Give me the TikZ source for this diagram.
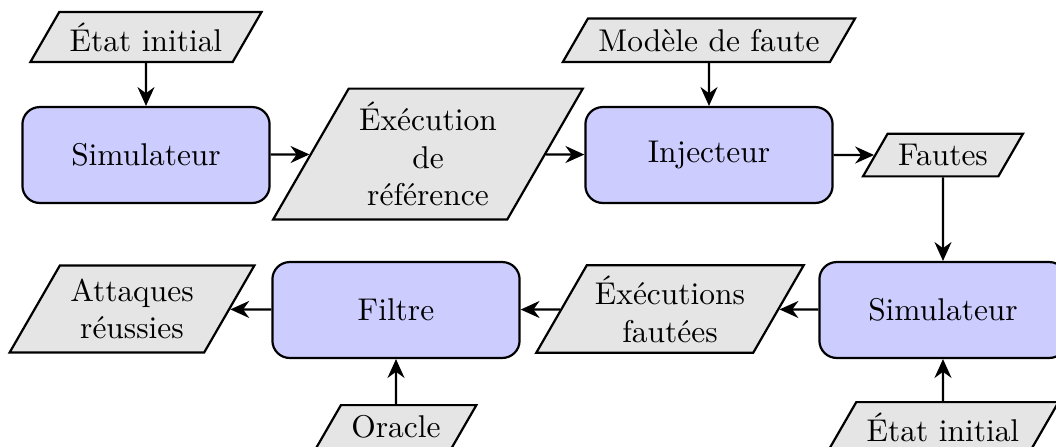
\documentclass[tikz,border=0pt]{standalone}
\usetikzlibrary{shapes.geometric,arrows.meta}
\tikzset{
  proc/.style={draw, line width=0.7pt, fill=blue!20, rounded corners=5.5pt,
    minimum width=78.6pt, minimum height=30.5pt},
  data/.style={draw, line width=0.7pt, fill=gray!20, trapezium,
    trapezium left angle=60, trapezium right angle=120, align=center},
  multi/.style={inner ysep=4.2pt},
  conn/.style={-{Stealth[length=6pt,width=5.4pt]}, line width=0.7pt},
}
\begin{document}
\begin{tikzpicture}[x=0.318pt,y=-0.318pt]
\useasboundingbox (0,0) rectangle (1056,446);
% top row
\node[proc] (sim1) at (146,155) {Simulateur};
\node[data, multi] (exec) at (428,154) {Éxécution\\de\\référence};
\node[proc] (inj) at (709,155) {Injecteur};
\node[data] (fautes) at (943,155) {Fautes};
\node[data, anchor=south] (etat1) at (146,63) {État initial};
\node[data, anchor=south] (modele) at (709,63) {Modèle de faute};
% bottom row
\node[proc] (sim2) at (943,310) {Simulateur};
\node[data, inner xsep=2.6pt] (execf) at (670,309) {Éxécutions\\fautées};
\node[proc] (filtre) at (396,310) {Filtre};
\node[data, multi] (att) at (132,309) {Attaques\\réussies};
\node[data, anchor=north] (oracle) at (396,404) {Oracle};
\node[data, anchor=north] (etat2) at (943,401) {État initial};
% connectors
\draw[conn] (etat1) -- (sim1);
\draw[conn] (sim1) -- (exec);
\draw[conn] (exec) -- (inj);
\draw[conn] (modele) -- (inj);
\draw[conn] (inj) -- (fautes);
\draw[conn] (fautes) -- (sim2);
\draw[conn] (etat2) -- (sim2);
\draw[conn] (sim2) -- (execf);
\draw[conn] (execf) -- (filtre);
\draw[conn] (oracle) -- (filtre);
\draw[conn] (filtre) -- (att);
\end{tikzpicture}
\end{document}
